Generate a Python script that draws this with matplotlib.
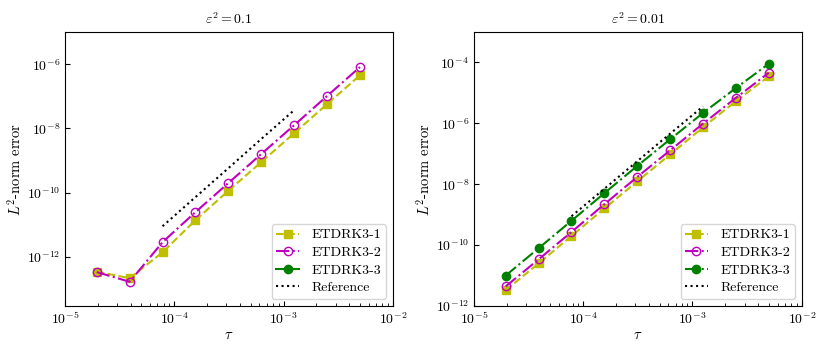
import numpy as np
import matplotlib
matplotlib.use('Agg')
import matplotlib.pyplot as plt
from matplotlib.ticker import NullLocator

plt.rcParams['font.family'] = 'serif'
plt.rcParams['font.serif'] = ['cmr10', 'DejaVu Serif']
plt.rcParams['mathtext.fontset'] = 'cm'
plt.rcParams['axes.formatter.use_mathtext'] = True
plt.rcParams['font.size'] = 10.5

# time steps
tau = [1.953125e-5, 3.90625e-5, 7.8125e-5, 1.5625e-4, 3.125e-4, 6.25e-4, 1.25e-3, 2.5e-3, 5e-3]
tau_ref = [7.8125e-5, 1.5625e-4, 3.125e-4, 6.25e-4, 1.25e-3]

# eps^2 = 0.1
err1_a = [3.5e-13, 2.2e-13, 1.4e-12, 1.4e-11, 1.15e-10, 9.0e-10, 7.1e-9, 5.7e-8, 4.5e-7]
err2_a = [3.4e-13, 1.7e-13, 2.9e-12, 2.5e-11, 2.0e-10, 1.6e-9, 1.26e-8, 1.02e-7, 8.1e-7]
ref_a = [9.1e-12, 7.3e-11, 5.8e-10, 4.7e-9, 3.7e-8]
yticks_a = [1e-12, 1e-10, 1e-8, 1e-6]

# eps^2 = 0.01
err1_b = [3.3e-12, 2.5e-11, 2.0e-10, 1.6e-9, 1.24e-8, 9.5e-8, 7.4e-7, 5.4e-6, 3.5e-5]
err2_b = [4.4e-12, 3.4e-11, 2.7e-10, 2.2e-9, 1.74e-8, 1.3e-7, 9.8e-7, 6.9e-6, 4.6e-5]
err3_b = [1.0e-11, 7.9e-11, 6.3e-10, 5.1e-9, 4.0e-8, 3.0e-7, 2.2e-6, 1.45e-5, 9.1e-5]
ref_b = [8.9e-10, 7.1e-9, 5.7e-8, 4.6e-7, 3.6e-6]
yticks_b = [1e-12, 1e-10, 1e-8, 1e-6, 1e-4]

fig = plt.figure(figsize=(8.3, 3.54), dpi=100)
ax1 = fig.add_axes([0.0783, 0.1356, 0.395, 0.774])
ax2 = fig.add_axes([0.571, 0.1356, 0.395, 0.774])


def draw(ax, e1, e2, e3, ref, title, ylim, yticks):
    ax.loglog(tau, e1, 'ys--', markersize=6, lw=1.5, label='ETDRK3-1')
    ax.loglog(tau, e2, 'mo-.', markersize=6, lw=1.5, mfc='none', label='ETDRK3-2')
    if e3 is not None:
        ax.loglog(tau, e3, 'go-.', markersize=6, lw=1.5, label='ETDRK3-3')
    else:
        ax.loglog([], [], 'go-', markersize=6, lw=1.5, label='ETDRK3-3')
    ax.loglog(tau_ref, ref, 'k:', lw=1.5, label='Reference')
    ax.set_xlim(1e-5, 1e-2)
    ax.set_ylim(*ylim)
    ax.set_yticks(yticks)
    ax.yaxis.set_minor_locator(NullLocator())
    ax.tick_params(which='both', direction='in', labelsize=10)
    ax.set_xlabel(r'$\tau$', labelpad=1)
    ax.set_ylabel(r'$L^2$-norm error', labelpad=2)
    ax.set_title(r'$\varepsilon^2 = %s$' % title, fontsize=10)
    ax.legend(loc='lower right', fontsize=10, labelspacing=0.35,
              handlelength=1.6, handletextpad=0.9, borderpad=0.35)


draw(ax1, err1_a, err2_a, None, ref_a, '0.1', (3e-14, 1e-5), yticks_a)
draw(ax2, err1_b, err2_b, err3_b, ref_b, '0.01', (1e-12, 1e-3), yticks_b)

fig.savefig('out.png', dpi=100)
